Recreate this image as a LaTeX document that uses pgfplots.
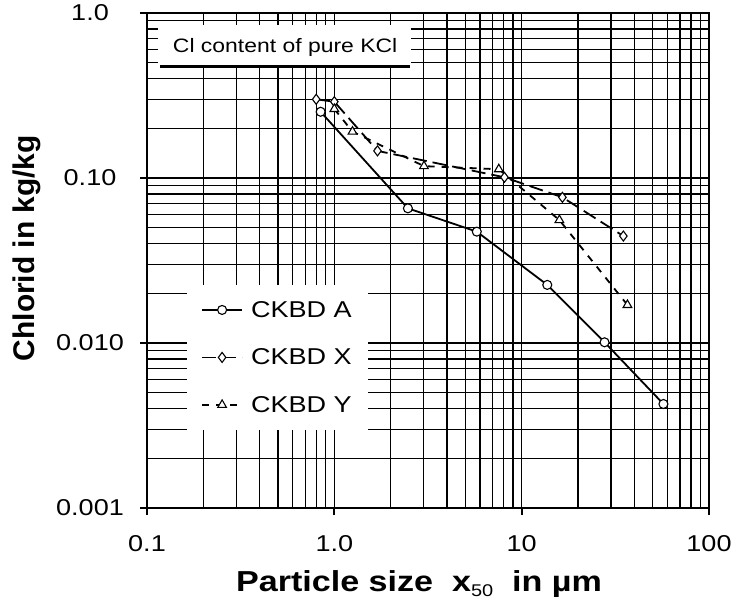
\documentclass[border=0pt]{standalone}
\usepackage{fontspec}
\setmainfont{Liberation Sans}[FakeStretch=1.18]
\newfontfamily\plainsans{Liberation Sans}
\usepackage{pgfplots}
\pgfplotsset{compat=1.18}
\begin{document}
\begin{tikzpicture}
\useasboundingbox (0,0) rectangle (731bp,610bp);
\begin{axis}[
  at={(147bp,102bp)}, anchor=south west,
  scale only axis, width=562bp, height=495bp,
  xmode=log, ymode=log,
  xmin=0.1, xmax=100, ymin=0.001, ymax=1,
  xtick={0.1,1,10,100}, xticklabels={0.1,1.0,10,100},
  ytick={0.001,0.01,0.1,1}, yticklabels={0.001,0.010,0.10,1.0},
  grid=both,
  major grid style={black, line width=1.3bp},
  minor grid style={black, line width=1.3bp},
  axis line style={black, line width=2bp},
  tick align=outside, major tick length=7bp, minor tick length=0pt,
  tick style={black, line width=2bp},
  xtick pos=bottom, ytick pos=left,
  ticklabel style={font=\fontsize{23}{23}\selectfont},
  xticklabel style={anchor=center, yshift=-29bp},
  yticklabel style={anchor=center, xshift=-50bp},
  xlabel={\bfseries Particle size\ \ x\raisebox{-0.35ex}{\fontsize{17}{17}\selectfont\mdseries 50}\ \ in µm},
  xlabel style={at={(axis description cs:0.484,-0.1535)}, anchor=center, font=\fontsize{29}{29}\selectfont},
  ylabel={\plainsans\bfseries Chlorid in kg/kg},
  ylabel style={at={(axis description cs:-0.2135,0.525)}, anchor=center, font=\fontsize{30}{30}\selectfont},
  legend image code/.code={\draw[mark repeat=2,mark phase=2,#1] plot coordinates {(0bp,0bp)(20bp,0bp)(40bp,0bp)};},
  legend style={at={(0.0712,0.4505)}, anchor=north west, draw=none, fill=white,
    font=\fontsize{23}{23}\selectfont, nodes={font=\fontsize{23}{23}\selectfont},
    inner xsep=14bp, inner ysep=14bp, row sep=26bp,
    /tikz/every odd column/.append style={column sep=6bp}},
  legend cell align=left,
]
\fill[white] (axis cs:0.115,0.4755) rectangle (axis cs:2.58,0.846);
\node[font=\fontsize{19.5}{19.5}\selectfont] at (axis cs:0.546,0.62) {Cl content of pure KCl};
\draw[black, line width=2.5bp] (axis cs:0.117,0.4755) -- (axis cs:2.54,0.4755);

\addplot[black, line width=1.8bp, mark=*, mark size=4.5bp, mark options={solid, fill=white, line width=1.1bp}]
  coordinates {(0.845,0.252)(2.47,0.0655)(5.76,0.0473)(13.7,0.0225)(27.7,0.0101)(57.1,0.00427)};
\addplot[black, line width=1.8bp, dash pattern=on 14bp off 6bp, mark=diamond*, mark size=5bp, mark options={solid, fill=white, line width=1.1bp}]
  coordinates {(0.80,0.30)(1.0,0.29)(1.70,0.146)(8.09,0.101)(16.5,0.0764)(34.9,0.0445)};
\addplot[black, line width=1.8bp, dash pattern=on 7bp off 7bp, mark=triangle*, mark size=5bp, mark options={solid, fill=white, line width=1.1bp}]
  coordinates {(1.0,0.262)(1.25,0.191)(3.01,0.118)(7.55,0.113)(15.9,0.0556)(36.7,0.0170)};
\legend{CKBD A, CKBD X, CKBD Y}
\end{axis}
\end{tikzpicture}
\end{document}
